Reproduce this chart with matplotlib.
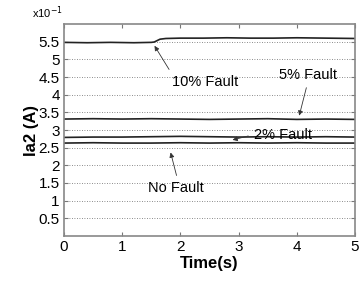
import matplotlib
matplotlib.use("Agg")
import matplotlib.pyplot as plt

plt.rcParams['font.family'] = ['Liberation Sans', 'DejaVu Sans']

# values in units of 1e-1 A
t_10 = [0, 0.4, 0.8, 1.2, 1.5, 1.55, 1.6, 1.65, 1.75, 2.0, 2.4, 2.8, 3.2, 3.6, 4.0, 4.5, 5.0]
ia_10 = [5.48, 5.47, 5.48, 5.47, 5.48, 5.49, 5.53, 5.57, 5.59, 5.60, 5.60, 5.61, 5.60, 5.60, 5.61, 5.60, 5.59]

t_5 = [0, 0.5, 1.0, 1.5, 2.0, 2.5, 3.0, 3.5, 4.0, 4.5, 5.0]
ia_5 = [3.31, 3.32, 3.31, 3.32, 3.31, 3.30, 3.31, 3.32, 3.30, 3.31, 3.30]

t_2 = [0, 0.5, 1.0, 1.5, 2.0, 2.5, 3.0, 3.5, 4.0, 4.5, 5.0]
ia_2 = [2.79, 2.80, 2.80, 2.81, 2.82, 2.81, 2.80, 2.81, 2.80, 2.81, 2.80]

t_0 = [0, 0.5, 1.0, 1.5, 2.0, 2.5, 3.0, 3.5, 4.0, 4.5, 5.0]
ia_0 = [2.63, 2.64, 2.63, 2.63, 2.64, 2.63, 2.64, 2.63, 2.64, 2.63, 2.63]

y_ticks = [0.5, 1, 1.5, 2, 2.5, 3, 3.5, 4, 4.5, 5, 5.5]
y_tick_labels = ['0.5', '1', '1.5', '2', '2.5', '3', '3.5', '4', '4.5', '5', '5.5']
x_ticks = [0, 1, 2, 3, 4, 5]

fig = plt.figure(figsize=(3.64, 2.84), dpi=100)
ax = fig.add_axes([64 / 364, 1 - 236 / 284, 291 / 364, 212 / 284])

for tt, yy in [(t_10, ia_10), (t_5, ia_5), (t_2, ia_2), (t_0, ia_0)]:
    ax.plot(tt, yy, color='#222222', linewidth=1.2)

ax.set_xlim(0, 5)
ax.set_ylim(0, 6)
ax.set_xticks(x_ticks)
ax.set_yticks(y_ticks)
ax.set_yticklabels(y_tick_labels)
for y in y_ticks:
    ax.axhline(y, color='#666666', linestyle=(0, (1, 2)), linewidth=0.6, zorder=0)

ax.tick_params(direction='in', top=True, right=True, length=3, labelsize=11,
               color='#777777', pad=3)
for sp in ax.spines.values():
    sp.set_color('#888888')
    sp.set_linewidth(1.2)

ax.set_xlabel('Time(s)', fontsize=12, fontweight='bold', labelpad=1)
ax.set_ylabel('Ia2 (A)', fontsize=12, fontweight='bold', labelpad=0)
ax.text(-0.005, 1.015, 'x10$^{-1}$', transform=ax.transAxes, ha='right', va='bottom', fontsize=8)

arrow = dict(arrowstyle='-|>', color='#333333', lw=0.6, mutation_scale=7)
ax.annotate('10% Fault', xy=(1.53, 5.45), xytext=(1.86, 4.37), fontsize=10.5,
            arrowprops=dict(arrow, relpos=(0.0, 1.0)), ha='left', va='center')
ax.annotate('5% Fault', xy=(4.03, 3.33), xytext=(3.69, 4.55), fontsize=10.5,
            arrowprops=dict(arrow, relpos=(0.5, 0.0)), ha='left', va='center')
ax.annotate('2% Fault', xy=(2.85, 2.70), xytext=(3.26, 2.87), fontsize=10.5,
            arrowprops=dict(arrow, relpos=(0.0, 0.5)), ha='left', va='center')
ax.annotate('No Fault', xy=(1.82, 2.44), xytext=(1.45, 1.36), fontsize=10.5,
            arrowprops=dict(arrow, relpos=(0.53, 1.0)), ha='left', va='center')

fig.savefig('out.png', dpi=100)
